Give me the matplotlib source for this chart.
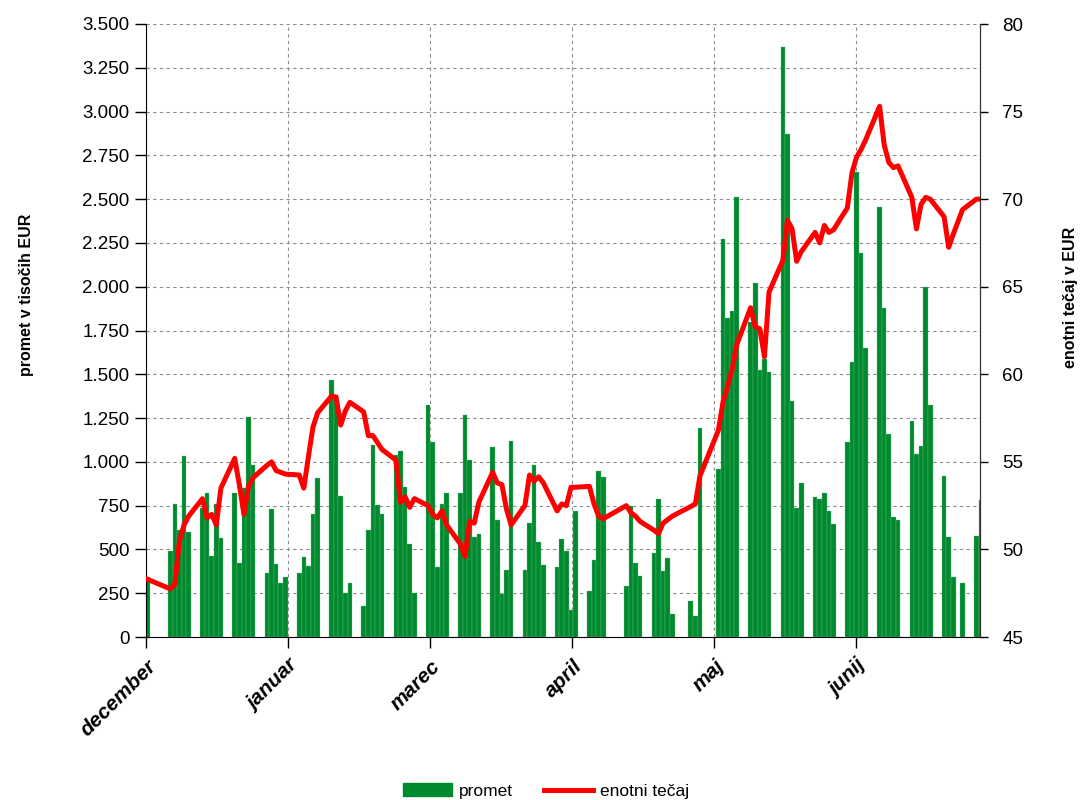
import numpy as np
import pandas as pd
import matplotlib
matplotlib.use("Agg")
import matplotlib.pyplot as plt
import matplotlib.dates as mdates
from matplotlib.patches import Patch
from matplotlib.lines import Line2D
from matplotlib.ticker import FuncFormatter, MultipleLocator

plt.rcParams['font.family'] = ['Liberation Sans', 'DejaVu Sans']

# trading days (stock exchange closed on these)
holidays = ['2009-01-01', '2009-01-02', '2009-04-10', '2009-04-13',
            '2009-04-27', '2009-05-01', '2009-06-25']
days = pd.bdate_range('2008-12-31', '2009-06-30')
days = days[~days.isin(pd.to_datetime(holidays))]

# turnover in thousands EUR
promet = [340,
          490, 760, 610, 1035, 600,
          735, 824, 464, 759, 563,
          824, 425, 849, 1255, 981,
          366, 733, 418, 309, 340,
          367, 457, 406, 704, 908,
          1470, 1380, 805, 253, 308,
          175, 613, 1099, 752, 701,
          1041, 1060, 857, 533, 253,
          1324, 1113, 400, 759, 824,
          824, 1265, 1011, 569, 588,
          1082, 668, 248, 380, 1120,
          385, 649, 983, 542, 410,
          400, 557, 490, 153, 719,
          263, 439, 950, 912,
          294, 748, 425, 347,
          477, 788, 378, 452, 130,
          204, 118, 1194,
          960, 2273, 1819, 1860, 2514,
          1800, 2020, 1525, 1590, 1515,
          3370, 2870, 1350, 737, 880,
          801, 789, 823, 719, 647,
          1112, 1570, 2655, 2190, 1650,
          2453, 1879, 1159, 683, 666,
          1231, 1047, 1088, 2001, 1322,
          917, 570, 340, 310,
          575, 784]

# unit price in EUR
tecaj = [48.3,
         47.75, 48.0, 50.5, 51.4, 51.9,
         52.9, 51.8, 52.0, 51.4, 53.5,
         55.2, 53.7, 52.0, 53.6, 54.1,
         54.8, 55.0, 54.5, 54.4, 54.3,
         54.25, 53.5, 55.3, 57.0, 57.8,
         58.75, 58.7, 57.1, 57.9, 58.4,
         57.85, 56.5, 56.5, 56.1, 55.7,
         55.1, 52.7, 53.0, 52.4, 52.9,
         52.5, 52.0, 51.8, 52.2, 51.4,
         50.3, 49.6, 51.6, 51.5, 52.7,
         54.4, 53.8, 53.7, 52.3, 51.4,
         52.5, 54.25, 53.9, 54.15, 53.8,
         52.2, 52.6, 52.5, 53.55, 53.55,
         53.6, 52.6, 51.9, 51.75,
         52.5, 52.1, 51.9, 51.6,
         51.1, 50.9, 51.5, 51.7, 51.9,
         52.45, 52.6, 54.2,
         56.8, 58.4, 59.3, 60.3, 61.7,
         63.8, 62.7, 62.6, 61.0, 64.7,
         66.5, 68.8, 68.3, 66.45, 67.0,
         68.1, 67.5, 68.5, 68.1, 68.25,
         69.5, 71.5, 72.4, 72.85, 73.4,
         75.3, 73.1, 72.1, 71.8, 71.9,
         70.1, 68.3, 69.7, 70.1, 70.0,
         69.0, 67.25, 68.0, 69.4,
         70.0, 70.0]

months = ['december', 'januar', 'marec', 'april', 'maj', 'junij']

green = '#008A2E'
red = '#FF0000'

fig = plt.figure(figsize=(10.81, 8), dpi=100)
ax = fig.add_axes([146/1081, 1-637/800, (980-146)/1081, (637-24)/800])
ax2 = ax.twinx()

ax.bar(days, promet, width=1.0, color=green, edgecolor='#6dbb88', linewidth=0.25, zorder=2)
ax2.plot(days, tecaj, color=red, lw=3.6, solid_joinstyle='round', zorder=3)

start = mdates.date2num(pd.Timestamp('2008-12-31'))
ax.set_xlim(start - 0.26, start + 180.8)
ticks = start + np.linspace(-0.25, 153.9, len(months))
ax.set_xticks(ticks)
ax.set_xticklabels(months, rotation=45, ha='right', va='top', rotation_mode='anchor',
                   fontweight='bold', fontstyle='italic', fontsize=15)

ax.set_ylim(0, 3500)
ax.yaxis.set_major_locator(MultipleLocator(250))
ax.yaxis.set_major_formatter(FuncFormatter(lambda v, p: f"{int(v):,}".replace(',', '.')))
ax2.set_ylim(45, 80)
ax2.yaxis.set_major_locator(MultipleLocator(5))

ax.tick_params(axis='y', labelsize=13.5, length=8, width=1, pad=4, direction='out')
ax.tick_params(axis='x', length=8, width=1, pad=6, direction='out')
ax2.tick_params(axis='y', labelsize=13.5, length=6, width=1, pad=10, direction='out')

ax.set_axisbelow(True)
ax.grid(True, ls=(0, (3, 3)), color='#8c8c8c', lw=0.8)

for a in (ax, ax2):
    a.spines['top'].set_visible(False)
ax2.spines['right'].set_color('#333333')
ax2.spines['left'].set_visible(False)
ax2.spines['bottom'].set_visible(False)

fig.text(27/1081, 1-295/800, 'promet v tisočih EUR', rotation=90, ha='center', va='center',
         fontsize=11.5, fontweight='bold')
fig.text(1070/1081, 1-297/800, 'enotni tečaj v EUR', rotation=90, ha='center', va='center',
         fontsize=11.5, fontweight='bold')

handles = [Patch(color=green, label='promet'),
           Line2D([], [], color=red, lw=3.6, label='enotni tečaj')]
fig.legend(handles=handles, loc='center', bbox_to_anchor=(0.505, 1-791/800), ncol=2,
           frameon=False, fontsize=12.5, handlelength=2.8, columnspacing=1.8, handletextpad=0.4)

fig.savefig('out.png', dpi=100)
